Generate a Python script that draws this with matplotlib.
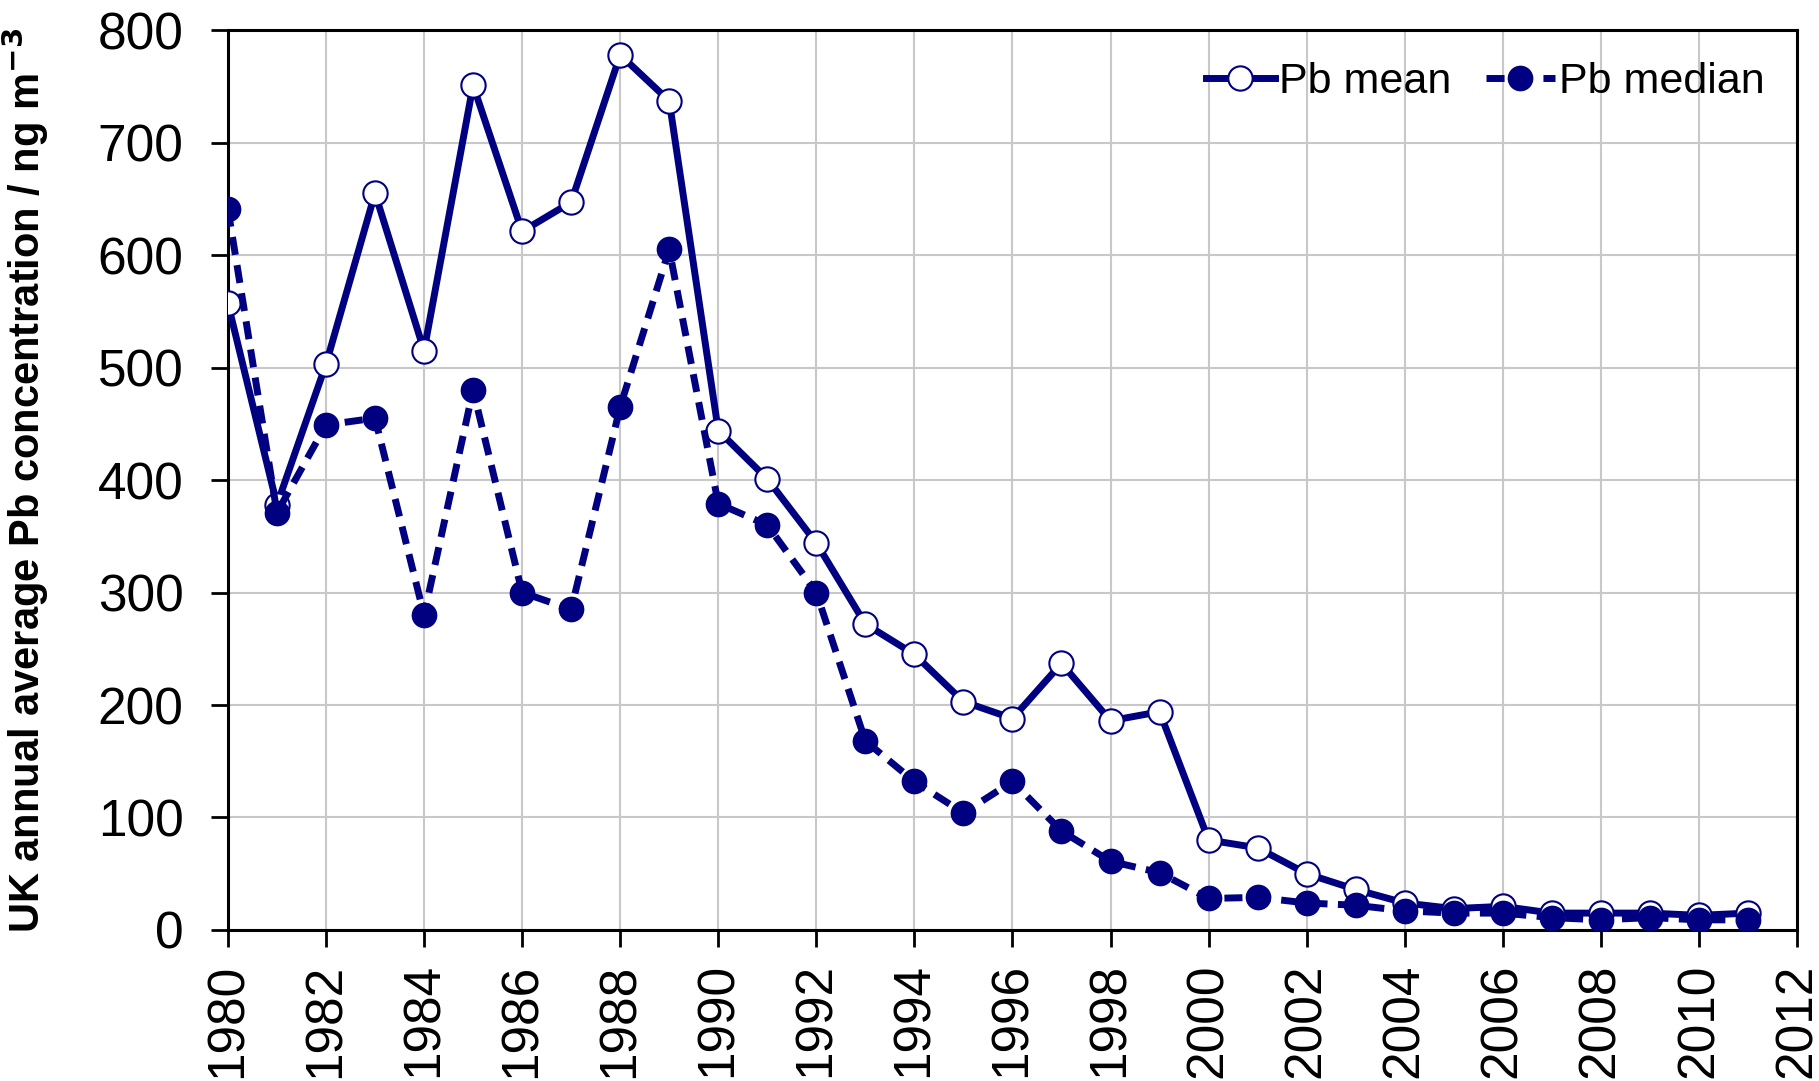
import matplotlib
matplotlib.use('Agg')
from matplotlib import pyplot as plt

# years
years = list(range(1980, 2012))
# UK annual mean Pb
pb_mean = [557, 378, 503, 655, 515, 751, 621, 647, 778, 737,
           444, 401, 344, 272, 245, 203, 188, 237, 186, 194,
           80, 73, 50, 36, 24, 19, 21, 15, 15, 15, 13, 15]
# UK annual median Pb
pb_median = [641, 371, 449, 455, 280, 480, 300, 285, 465, 605,
             379, 360, 300, 168, 132, 104, 132, 88, 61, 51,
             28, 29, 24, 22, 17, 15, 15, 11, 9, 11, 9, 9]

plt.rcParams['font.family'] = ['Liberation Sans', 'DejaVu Sans']
navy = '#000080'

fig = plt.figure(figsize=(18.19, 10.81), dpi=100)
ax = fig.add_axes([0.1253, 0.1397, 0.8626, 0.8325])

ax.plot(years, pb_mean, color=navy, lw=5, marker='o', ms=17.5,
        mfc='white', mec=navy, mew=1.5, label='Pb mean', zorder=3)
ax.plot(years, pb_median, color=navy, lw=5, ls=(0, (2.6, 1.5)), marker='o', ms=17.5,
        mfc=navy, mec=navy, label='Pb median', zorder=3)

ax.set_xlim(1980, 2012)
ax.set_ylim(0, 800)
ax.set_xticks(range(1980, 2013, 2))
ax.set_yticks(range(0, 801, 100))
ax.tick_params(axis='x', labelrotation=90, pad=12)
ax.tick_params(axis='y', pad=20)
ax.tick_params(direction='out', length=12, width=2, labelsize=37)
ax.grid(color='#c8c8c8', lw=1.5)
ax.set_axisbelow(True)
for s in ax.spines.values():
    s.set_linewidth(2.2)
    s.set_color('black')

ax.set_ylabel('UK annual average Pb concentration / ng m$^{\\mathbf{-3}}$',
              fontsize=30, fontweight='bold')
ax.yaxis.set_label_coords(-0.113, 0.5)

ax.legend(loc='upper right', ncol=2, frameon=False, fontsize=31,
          handlelength=1.6, handletextpad=0.1, columnspacing=0.8,
          borderaxespad=0.35)

plt.savefig('out.png', dpi=100)
